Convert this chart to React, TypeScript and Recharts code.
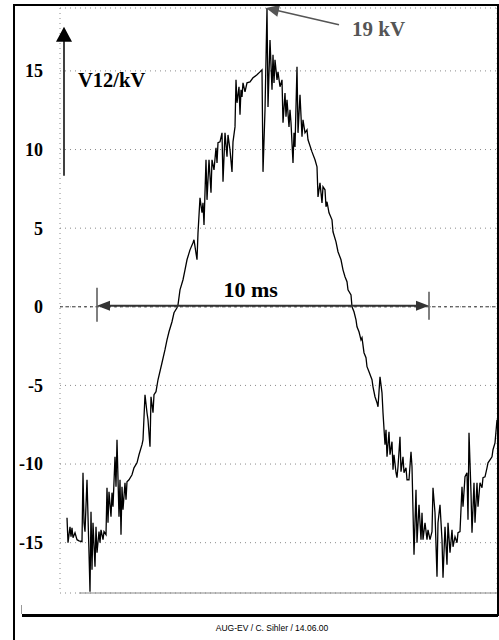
import React from "react";
import {
  ComposedChart,
  Line,
  XAxis,
  YAxis,
  CartesianGrid,
  ReferenceLine,
  ReferenceDot,
} from "recharts";

// time in ms (0 = first grid line, grid every 2 ms)
const timeMs: number[] = [
  -0.09, -0.06, 0, 0.03, 0.06, 0.09, 0.15, 0.21, 0.27, 0.36, 0.39, 0.42, 0.45, 0.51, 0.57, 0.6, 0.63, 0.66, 0.69, 0.75,
  0.78, 0.81, 0.87, 0.9, 0.93, 0.99, 1.02, 1.08, 1.11, 1.14, 1.17, 1.23, 1.26, 1.29, 1.35, 1.38, 1.41, 1.47, 1.5, 1.53,
  1.56, 1.59, 1.65, 1.68, 1.71, 1.77, 1.86, 1.92, 2.01, 2.07, 2.16, 2.19, 2.25, 2.31, 2.34, 2.4, 2.43, 2.49, 2.52, 2.58,
  2.64, 2.76, 2.85, 2.91, 2.97, 3.06, 3.12, 3.21, 3.24, 3.3, 3.39, 3.45, 3.51, 3.6, 3.69, 3.72, 3.81,
  3.84, 3.9, 3.96, 3.99, 4.02, 4.08, 4.11, 4.17, 4.23, 4.26, 4.32, 4.38, 4.41, 4.44, 4.5, 4.56, 4.59, 4.65, 4.71, 4.74,
  4.8, 4.86, 4.89, 4.95, 4.98, 5.01, 5.07, 5.1, 5.13, 5.16, 5.19, 5.25, 5.31, 5.4, 5.49, 5.61, 5.7, 5.76,
  5.79, 5.85, 5.91, 5.94, 6.0, 6.06, 6.09, 6.12, 6.15, 6.21, 6.24, 6.3, 6.36, 6.39, 6.45, 6.48, 6.51, 6.57, 6.6, 6.63,
  6.69, 6.72, 6.75, 6.81, 6.84, 6.9, 6.96, 6.99, 7.05, 7.11, 7.14, 7.26, 7.35, 7.41, 7.44, 7.5, 7.56, 7.59, 7.65,
  7.68, 7.71, 7.77, 7.86, 7.89, 7.98, 8.04, 8.13, 8.19, 8.25, 8.31, 8.34, 8.43, 8.46, 8.52, 8.58, 8.61, 8.67, 8.73, 8.76,
  8.82, 8.88, 8.91, 8.97, 9.06, 9.09, 9.15, 9.21, 9.24, 9.3, 9.36, 9.39, 9.45, 9.48, 9.51, 9.57,
  9.6, 9.66, 9.69, 9.72, 9.78, 9.81, 9.84, 9.9, 9.93, 9.99, 10.02, 10.08, 10.11, 10.17, 10.23, 10.26, 10.32, 10.38, 10.41, 10.47,
  10.53, 10.56, 10.59, 10.65, 10.71, 10.74, 10.8, 10.86, 10.89, 10.95, 11.01, 11.04, 11.1, 11.16, 11.19, 11.25, 11.31, 11.34, 11.4, 11.46,
  11.49, 11.55, 11.61, 11.64, 11.7, 11.76, 11.79, 11.85, 11.91, 11.94, 11.97, 12.03, 12.06, 12.12, 12.15, 12.21, 12.24, 12.3, 12.36, 12.39,
  12.45, 12.51, 12.54, 12.6, 12.66, 12.69, 12.75, 12.81,
];

// V12 in kV
const voltageKV: number[] = [
  -13.41, -15.0, -13.99, -14.62, -14.05, -14.69, -14.37, -14.81, -14.88, -14.94, -10.55, -13.73, -14.3, -11.0, -15.64, -18.12, -13.03, -16.72, -13.73, -16.53,
  -13.99, -15.64, -14.3, -15.0, -14.18, -14.81, -14.3, -14.49, -11.51, -13.73, -11.76, -13.35, -11.82, -12.71, -9.54, -11.44, -8.46, -13.35, -11.0, -14.49,
  -11.44, -12.91, -11.19, -12.27, -11.13, -11.0, -10.68, -10.24, -9.92, -9.41, -8.77, -8.46, -5.59, -6.74, -7.18, -8.9, -5.72, -6.74, -5.59, -5.4,
  -4.64, -3.56, -2.73, -2.1, -1.59, -0.95, -0.38, -0.06, 0.13, 1.08, 1.72, 2.35, 2.99, 3.62, 4.07, 4.26, 2.99,
  4.7, 6.93, 5.98, 6.61, 5.21, 9.35, 6.8, 9.35, 7.25, 9.35, 8.71, 10.11, 9.15, 10.43, 10.49, 11.06, 7.95, 11.06, 9.54, 10.93,
  9.98, 8.58, 10.49, 11.44, 14.43, 12.97, 13.99, 12.21, 13.8, 13.35, 14.24, 13.67, 14.24, 14.3, 14.56, 14.75, 14.94, 15.07,
  8.58, 12.52, 19.0, 12.71, 16.97, 13.8, 16.02, 14.24, 15.7, 14.43, 14.94, 13.99, 14.43, 11.7, 13.6, 12.08, 13.16, 11.44, 12.52, 11.7,
  9.15, 11.06, 10.17, 15.26, 11.06, 13.48, 10.81, 11.89, 11.06, 11.25, 10.62, 9.85, 9.35, 8.9, 6.99, 7.88, 6.61, 7.63, 7.44,
  6.36, 6.68, 5.98, 5.53, 4.77, 4.13, 3.5, 2.99, 2.35, 1.91, 1.59, 1.08, 0.76, 0, -0.32, -0.83, -1.27, -1.59, -2.1, -1.97,
  -2.92, -3.24, -3.81, -4.13, -4.64, -5.09, -5.72, -6.1, -6.36, -4.45, -5.47, -6.74, -8.77, -7.82, -9.54, -7.95,
  -9.41, -8.58, -10.36, -9.41, -10.55, -10.87, -10.17, -8.26, -10.49, -9.54, -10.55, -10.24, -11.0, -11.0, -9.22, -10.17, -15.77, -11.63, -15.0, -12.59,
  -14.81, -13.1, -14.81, -13.73, -14.81, -14.18, -14.81, -14.3, -11.51, -13.1, -17.16, -13.73, -12.59, -14.81, -17.23, -13.99, -16.4, -13.73, -15.64, -14.18,
  -15.26, -14.62, -15.0, -14.37, -14.3, -11.44, -12.71, -10.81, -10.55, -13.54, -8.01, -11.82, -14.37, -11.19, -13.73, -11.19, -12.71, -11.19, -11.51, -10.87,
  -10.81, -10.24, -9.92, -9.73, -9.54, -9.09, -8.65, -7.18,
];

const yTicks: number[] = [-15, -10, -5, 0, 5, 10, 15];
const xGridMs: number[] = [0, 2, 4, 6, 8, 10, 12];

const yLabel = "V12/kV";
const peakLabel = "19 kV";
const spanLabel = "10 ms";
const credits = "AUG-EV / C. Sihler / 14.06.00";

const data = timeMs.map((t, i) => ({ t, v: voltageKV[i] }));

const SERIF = "'Liberation Serif', 'Times New Roman', serif";

type ArrowOpts = {
  color: string;
  width: number;
  head: number;
  half: number;
  start?: boolean;
  end?: boolean;
};

function makeArrow(o: ArrowOpts) {
  return (p: any) => {
    const x1 = Number(p.x1), y1 = Number(p.y1), x2 = Number(p.x2), y2 = Number(p.y2);
    const dx = x2 - x1, dy = y2 - y1;
    const len = Math.sqrt(dx * dx + dy * dy) || 1;
    const ux = dx / len, uy = dy / len;
    const nx = -uy, ny = ux;
    const head = (tx: number, ty: number, dir: number) => {
      const bx = tx - dir * ux * o.head;
      const by = ty - dir * uy * o.head;
      return `${tx},${ty} ${bx + nx * o.half},${by + ny * o.half} ${bx - nx * o.half},${by - ny * o.half}`;
    };
    const sx = o.start ? x1 + ux * o.head * 0.8 : x1;
    const sy = o.start ? y1 + uy * o.head * 0.8 : y1;
    const ex = o.end ? x2 - ux * o.head * 0.8 : x2;
    const ey = o.end ? y2 - uy * o.head * 0.8 : y2;
    return (
      <g>
        <line x1={sx} y1={sy} x2={ex} y2={ey} stroke={o.color} strokeWidth={o.width} />
        {o.end && <polygon points={head(x2, y2, 1)} fill={o.color} />}
        {o.start && <polygon points={head(x1, y1, -1)} fill={o.color} />}
      </g>
    );
  };
}

function textShape(label: string, size: number, color: string, anchor: "start" | "middle" | "end") {
  return (p: any) => (
    <text
      x={p.cx}
      y={p.cy}
      fontFamily={SERIF}
      fontWeight="bold"
      fontSize={size}
      fill={color}
      textAnchor={anchor}
    >
      {label}
    </text>
  );
}

const rule = (left: number, top: number, width: number, height: number, color = "#000") => (
  <div style={{ position: "absolute", left, top, width, height, background: color }} />
);

export default function App() {
  return (
    <div style={{ position: "absolute", left: 0, top: 0, width: 499, height: 640, background: "#fff" }}>
      <ComposedChart
        width={499}
        height={640}
        data={data}
        margin={{ top: 8, right: 2, bottom: 42, left: 0 }}
      >
        <CartesianGrid stroke="#8a8a8a" strokeDasharray="1 4" />
        <XAxis
          type="number"
          dataKey="t"
          domain={[-0.3, 12.81]}
          ticks={xGridMs}
          allowDataOverflow
          tick={false}
          tickSize={3}
          height={5}
          axisLine={false}
          tickLine={{ stroke: "#888" }}
        />
        <YAxis
          type="number"
          domain={[-18.2, 19.0]}
          ticks={yTicks}
          allowDataOverflow
          width={60}
          axisLine={false}
          tickLine={false}
          tickSize={0}
          tickMargin={17}
          tick={{ fontFamily: SERIF, fontWeight: "bold", fontSize: 18, fill: "#000" }}
        />
        <ReferenceLine y={0} stroke="#333" strokeDasharray="3 3" strokeWidth={1} />
        <ReferenceLine
          segment={[{ x: 0.27, y: -18.2 }, { x: 12.81, y: -18.2 }]}
          stroke="#888"
          strokeWidth={1}
        />
        <Line
          type="linear"
          dataKey="v"
          stroke="#000"
          strokeWidth={1.3}
          dot={false}
          isAnimationActive={false}
        />
        {/* 10 ms span arrow */}
        <ReferenceLine
          segment={[{ x: 0.81, y: 0.06 }, { x: 10.77, y: 0.06 }]}
          shape={makeArrow({ color: "#333", width: 2, head: 13, half: 5, start: true, end: true })}
        />
        <ReferenceLine
          segment={[{ x: 0.81, y: 1.21 }, { x: 0.81, y: -0.95 }]}
          stroke="#555"
          strokeWidth={1.5}
        />
        <ReferenceLine
          segment={[{ x: 10.77, y: 0.95 }, { x: 10.77, y: -0.83 }]}
          stroke="#555"
          strokeWidth={1.5}
        />
        {/* V12 axis arrow */}
        <ReferenceLine
          segment={[{ x: -0.18, y: 8.33 }, { x: -0.18, y: 17.8 }]}
          shape={makeArrow({ color: "#000", width: 1.5, head: 15, half: 8, end: true })}
        />
        {/* 19 kV peak arrow */}
        <ReferenceLine
          segment={[{ x: 8.07, y: 17.93 }, { x: 5.88, y: 19.0 }]}
          shape={makeArrow({ color: "#555", width: 1.6, head: 13, half: 6, end: true })}
        />
        <ReferenceDot x={0.24} y={13.99} r={0} shape={textShape(yLabel, 20.5, "#000", "start")} />
        <ReferenceDot x={8.46} y={17.23} r={0} shape={textShape(peakLabel, 21, "#555", "start")} />
        <ReferenceDot x={5.42} y={0.64} r={0} shape={textShape(spanLabel, 22, "#000", "middle")} />
      </ComposedChart>
      {rule(13, 4, 2, 636)}
      {rule(13, 4, 485, 2)}
      {rule(497, 4, 1.5, 612)}
      {rule(22, 614, 476, 3)}
      {rule(20.5, 605, 1, 9, "#999")}
      <div
        style={{
          position: "absolute",
          left: 172,
          width: 200,
          top: 623,
          textAlign: "center",
          fontFamily: "'Liberation Sans', Arial, sans-serif",
          fontSize: 8.5,
          lineHeight: "11px",
          color: "#000",
        }}
      >
        {credits}
      </div>
    </div>
  );
}
